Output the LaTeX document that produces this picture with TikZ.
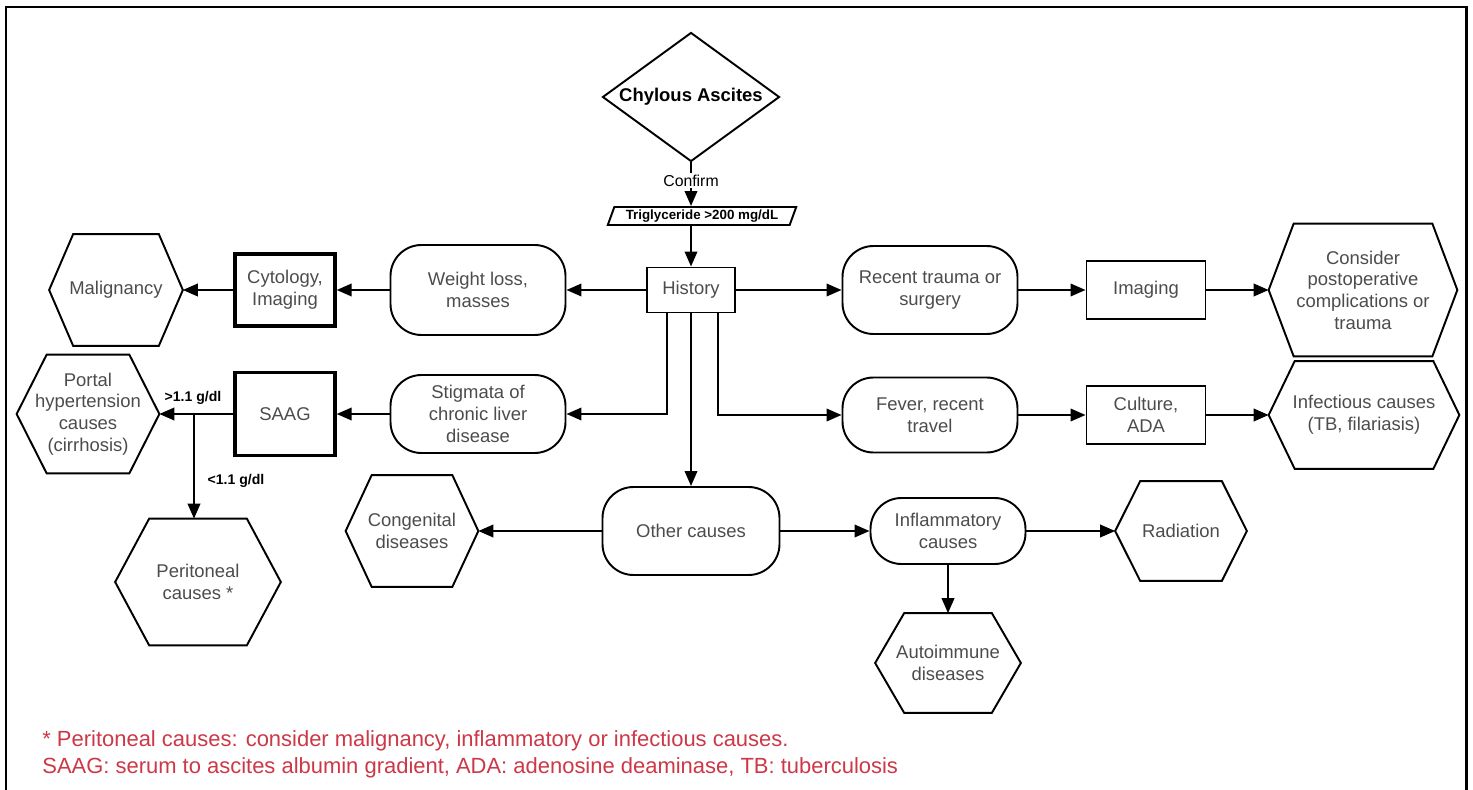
\documentclass[tikz,border=0pt]{standalone}
\usepackage{fontspec}
\setmainfont{Liberation Sans}
\usetikzlibrary{arrows.meta,shapes.geometric}

\newlength{\du}
\setlength{\du}{0.02cm}
\definecolor{dialinecolor}{rgb}{0.000000, 0.000000, 0.000000}
\definecolor{diatextcolor}{rgb}{0.300000, 0.300000, 0.300000}
\definecolor{dianotecolor}{rgb}{0.800000, 0.220000, 0.280000}

\tikzset{
  textfont/.style={font=\fontsize{10.5}{12.3}\selectfont},
  boxnode/.style={rectangle, draw=dialinecolor, line width=1.1pt, align=center,
    inner sep=0pt, text=diatextcolor, textfont},
  thickbox/.style={boxnode, line width=1.9pt},
  pillnode/.style={boxnode, rounded corners=0.62cm},
  hexnode/.style={rectangle, align=center, inner sep=0pt, text=diatextcolor, textfont},
  arrline/.style={draw=dialinecolor, line width=1.2pt, -{Triangle[length=0.3cm,width=0.25cm]}},
  smalllbl/.style={inner sep=1pt, text=black, font=\fontsize{8}{9}\selectfont\bfseries},
  notetext/.style={inner sep=0pt, text=dianotecolor, font=\fontsize{12.5}{14}\selectfont}
}

\begin{document}
\begin{tikzpicture}[x=1\du, y=-1\du]
\useasboundingbox (0,0) rectangle (1473,790);
\draw[line width=1.7pt] (6,800) -- (6,7) -- (1466,7) -- (1466,800);

% top
\node[diamond, draw=dialinecolor, line width=1.1pt, inner sep=0pt, aspect=1.37,
  minimum width=177\du, minimum height=129\du, font=\fontsize{10.5}{12}\selectfont\bfseries]
  (chyle) at (691,97) {Chylous Ascites};
\node[trapezium, trapezium left angle=70, trapezium right angle=110, trapezium stretches=true,
  draw=dialinecolor, line width=1.1pt, inner sep=1pt, minimum width=190\du, minimum height=18\du,
  font=\fontsize{7.6}{8}\selectfont\bfseries] (trig) at (702,216) {Triglyceride >200 mg/dL};
\node[boxnode, minimum width=88\du, minimum height=45\du] (hist) at (691,290) {History};

% left side
\node[pillnode, minimum width=175\du, minimum height=90\du] (wloss) at (478,290) {Weight loss,\\masses};
\node[thickbox, minimum width=100\du, minimum height=72\du] (cyto) at (285,290) {Cytology,\\Imaging};
\node[hexnode, minimum width=133\du, minimum height=111\du] (malig) at (116,290) {Malignancy};
\node[pillnode, minimum width=175\du, minimum height=78\du] (stig) at (478,414) {Stigmata of\\chronic liver\\disease};
\node[thickbox, minimum width=100\du, minimum height=83\du] (saag) at (285,414) {SAAG};
\node[hexnode, minimum width=142\du, minimum height=118\du] (portal) at (88,414) {Portal\\hypertension\\causes\\(cirrhosis)};
\node[hexnode, minimum width=165\du, minimum height=126\du] (perit) at (198,582) {Peritoneal\\causes *};
\coordinate (brch) at (194,414);
\node[smalllbl] (gtlbl) at (193,398) {>1.1 g/dl};
\node[smalllbl] (ltlbl) at (236,481) {<1.1 g/dl};

% right side
\node[pillnode, minimum width=175\du, minimum height=88\du] (trauma) at (930,290) {Recent trauma or\\surgery};
\node[boxnode, minimum width=119\du, minimum height=58\du] (imag) at (1146,290) {Imaging};
\node[hexnode, minimum width=188\du, minimum height=132\du] (postop) at (1363,290) {Consider\\postoperative\\complications or\\trauma};
\node[pillnode, minimum width=175\du, minimum height=75\du] (fever) at (930,415) {Fever, recent\\travel};
\node[boxnode, minimum width=119\du, minimum height=58\du] (cult) at (1146,415) {Culture,\\ADA};
\node[hexnode, minimum width=190\du, minimum height=107\du] (infect) at (1364,415) {Infectious causes\\(TB, filariasis)};

% bottom
\node[pillnode, minimum width=177\du, minimum height=88\du] (other) at (691,531) {Other causes};
\node[hexnode, minimum width=132\du, minimum height=111\du] (congen) at (412,531) {Congenital\\diseases};
\node[pillnode, minimum width=155\du, minimum height=66\du] (inflam) at (948,531) {Inflammatory\\causes};
\node[hexnode, minimum width=131\du, minimum height=99\du] (radia) at (1181,531) {Radiation};
\node[hexnode, minimum width=145\du, minimum height=99\du] (autoim) at (948,663) {Autoimmune\\diseases};

\foreach \n/\k in {malig/24,portal/30,perit/34,congen/26,postop/25,infect/26,radia/25,autoim/29}
  \draw[draw=dialinecolor, line width=1.1pt] (\n.west) -- ([xshift=\k\du]\n.north west)
    -- ([xshift=-\k\du]\n.north east) -- (\n.east) -- ([xshift=-\k\du]\n.south east)
    -- ([xshift=\k\du]\n.south west) -- cycle;

% connectors
\draw[arrline] (chyle.south) -- node[pos=0.42, fill=white, inner sep=1pt, text=black,
  font=\fontsize{9}{10}\selectfont] (conf) {Confirm} (chyle.south |- trig.north);
\draw[arrline] (hist.north |- trig.south) -- (hist.north);
\draw[arrline] (hist) -- (wloss);
\draw[arrline] (wloss) -- (cyto);
\draw[arrline] (cyto) -- (malig);
\draw[arrline] ([xshift=-24\du]hist.south) |- (stig);
\draw[arrline] (stig) -- (saag);
\draw[arrline] (saag) -- (portal);
\draw[arrline] (brch) -- (brch |- perit.north);
\draw[arrline] (hist) -- (trauma);
\draw[arrline] (trauma) -- (imag);
\draw[arrline] (imag) -- (postop);
\draw[arrline] ([xshift=27\du]hist.south) |- (fever);
\draw[arrline] (fever) -- (cult);
\draw[arrline] (cult) -- (infect);
\draw[arrline] (hist) -- (other);
\draw[arrline] (other) -- (congen);
\draw[arrline] (other) -- (inflam);
\draw[arrline] (inflam) -- (radia);
\draw[arrline] (inflam) -- (autoim);

% notes
\node[notetext, anchor=west] (note1) at (42,741) {* Peritoneal causes: consider malignancy, inflammatory or infectious causes.};
\node[notetext, anchor=west] (note2) at (42,768) {SAAG: serum to ascites albumin gradient, ADA: adenosine deaminase, TB: tuberculosis};
\end{tikzpicture}
\end{document}
